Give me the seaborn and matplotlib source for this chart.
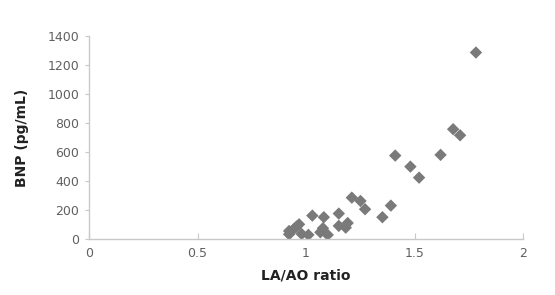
import matplotlib
matplotlib.use('Agg')
import matplotlib.pyplot as plt
import seaborn as sns
import pandas as pd

# --- Data ---
la_ao_ratio = [1.783, 1.678, 1.710, 1.620, 1.411, 1.481, 1.521, 1.211, 1.251, 1.272,
               1.391, 1.352, 1.029, 1.082, 1.151, 1.151, 1.183, 1.192, 1.078, 1.066,
               1.100, 1.011, 0.980, 0.968, 0.956, 0.943, 0.922, 0.922]
bnp = [1286, 757, 715, 580, 575, 499, 423, 285, 262, 205,
       230, 150, 161, 150, 175, 90, 78, 110, 74, 46,
       28, 28, 34, 101, 85, 67, 55, 32]

x_ticks = [0, 0.5, 1, 1.5, 2]
x_tick_labels = ['0', '0.5', '1', '1.5', '2']
y_ticks = [0, 200, 400, 600, 800, 1000, 1200, 1400]

df = pd.DataFrame({'ratio': la_ao_ratio, 'bnp': bnp})

sns.set_style('white')
plt.rcParams['font.family'] = ['DejaVu Sans']

fig = plt.figure(figsize=(5.55, 2.95), dpi=100)
ax = fig.add_axes([0.1604, 0.190, 0.7820, 0.688])

sns.scatterplot(data=df, x='ratio', y='bnp', ax=ax, marker='D', s=40,
                color='#7a7a7a', edgecolor='none', linewidth=0)

ax.set_xlim(0, 2)
ax.set_ylim(0, 1400)
ax.set_xticks(x_ticks)
ax.set_xticklabels(x_tick_labels)
ax.set_yticks(y_ticks)

axis_color = '#c8c8c8'
for side in ['top', 'right']:
    ax.spines[side].set_visible(False)
for side in ['left', 'bottom']:
    ax.spines[side].set_color(axis_color)
    ax.spines[side].set_linewidth(1)

ax.tick_params(axis='x', direction='in', length=4, color=axis_color,
               labelsize=9, labelcolor='#606060', pad=6, bottom=True)
ax.tick_params(axis='y', direction='out', length=3, color=axis_color,
               labelsize=9, labelcolor='#606060', pad=4, left=True)

ax.set_xlabel('LA/AO ratio', fontsize=10, fontweight='bold', color='#222222', labelpad=6)
ax.set_ylabel('BNP (pg/mL)', fontsize=10, fontweight='bold', color='#222222', labelpad=13)

fig.savefig('out.png', dpi=100)
plt.close(fig)
